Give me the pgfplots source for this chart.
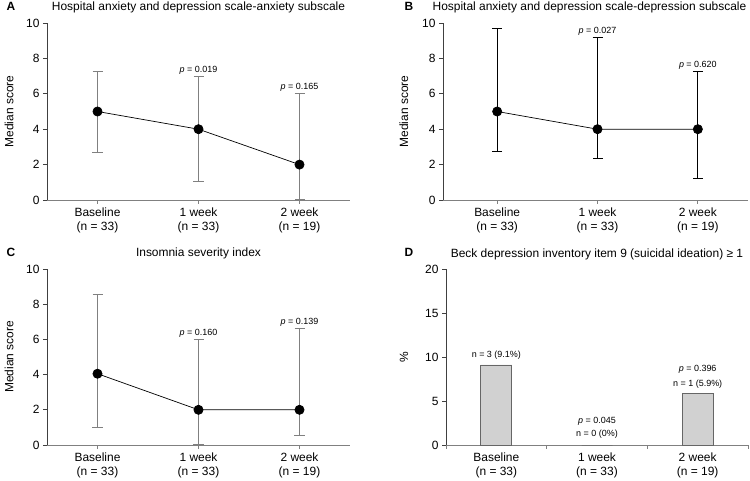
\documentclass[border=0pt]{standalone}
\usepackage{pgfplots}
\pgfplotsset{compat=1.18}
\usepackage{fontspec}
\setmainfont{Liberation Sans}
\tikzset{pl/.style={font=\fontsize{9}{11}\selectfont, anchor=base, yshift=4bp}}
\begin{document}
\begin{tikzpicture}
\useasboundingbox (0,0) rectangle (750bp,481bp);
\pgfplotsset{
  panel/.style={
    scale only axis,
    axis x line=bottom, axis y line=left,
    axis line style={-},
    x axis line style={black!50, line width=0.9bp},
    y axis line style={black!75, line width=0.8bp},
    tick align=outside, major tick length=4bp,
    xtick style={black!50, line width=0.8bp},
    ytick style={black!75, line width=0.8bp},
    tick label style={font=\fontsize{12}{14.5}\selectfont},
    /pgf/number format/assume math mode=true,
    xticklabel style={align=center},
    clip=false,
    every axis title/.style={at={(0.5,1)}, anchor=base, yshift=12bp, font=\fontsize{12}{14}\selectfont},
    label style={font=\fontsize{12}{14}\selectfont},
  },
  lineplot/.style={
    panel, xmin=-0.5, xmax=2.5, ymin=0, ymax=10,
    xtick={0,1,2}, ytick={0,2,...,10},
    xticklabels={Baseline\\(n = 33),1 week\\(n = 33),2 week\\(n = 19)},
    ylabel={Median score},
  },
}
% Panel A
\begin{axis}[lineplot, at={(47bp,281bp)}, anchor=south west, width=303bp, height=177bp,
  title={Hospital anxiety and depression scale-anxiety subscale},
  ylabel style={at={(axis description cs:-0.125,0.5)}, anchor=center}]
\addplot[black, line width=0.7bp, mark=*, mark size=4.6bp, mark options={fill=black},
  error bars/.cd, y dir=both, y explicit,
  error bar style={black!50, line width=1bp},
  error mark options={rotate=90, mark size=5bp, black!50, line width=1bp}]
  table[x=x, y=y, y error plus=ep, y error minus=em] {
  x y ep em
  0 5 2.28 2.31
  1 4 3.0 2.98
  2 2 4.0 2.0
};
\node[pl] at (axis cs:1,7.0) {{\itshape p} = 0.019};
\node[pl] at (axis cs:2,6.0) {{\itshape p} = 0.165};
\end{axis}
% Panel B
\begin{axis}[lineplot, at={(443bp,281bp)}, anchor=south west, width=305bp, height=177bp,
  xmin=-0.54,
  title={Hospital anxiety and depression scale-depression subscale},
  title style={xshift=-6bp},
  ylabel style={at={(axis description cs:-0.128,0.5)}, anchor=center}]
\addplot[black, line width=0.7bp, mark=*, mark size=4.6bp, mark options={fill=black},
  error bars/.cd, y dir=both, y explicit,
  error bar style={black, line width=0.9bp},
  error mark options={rotate=90, mark size=5bp, black, line width=0.9bp}]
  table[x=x, y=y, y error plus=ep, y error minus=em] {
  x y ep em
  0 5 4.7 2.23
  1 4 5.17 1.68
  2 4 3.25 2.77
};
\node[pl] at (axis cs:1,9.17) {{\itshape p} = 0.027};
\node[pl] at (axis cs:2,7.25) {{\itshape p} = 0.620};
\end{axis}
% Panel C
\begin{axis}[lineplot, at={(47bp,36bp)}, anchor=south west, width=303bp, height=176bp,
  title={Insomnia severity index},
  ylabel style={at={(axis description cs:-0.125,0.5)}, anchor=center}]
\addplot[black, line width=0.7bp, mark=*, mark size=4.6bp, mark options={fill=black},
  error bars/.cd, y dir=both, y explicit,
  error bar style={black!50, line width=1bp},
  error mark options={rotate=90, mark size=5bp, black!50, line width=1bp}]
  table[x=x, y=y, y error plus=ep, y error minus=em] {
  x y ep em
  0 4.05 4.5 3.05
  1 2 4.0 2.0
  2 2 4.6 1.47
};
\node[pl] at (axis cs:1,6.0) {{\itshape p} = 0.160};
\node[pl] at (axis cs:2,6.6) {{\itshape p} = 0.139};
\end{axis}
% Panel D
\begin{axis}[panel, at={(446bp,36bp)}, anchor=south west, width=302bp, height=176bp,
  xmin=-0.5, xmax=2.5, ymin=0, ymax=20,
  xtick={-0.5,0.5,1.5,2.5}, x tick label as interval,
  xticklabels={Baseline\\(n = 33),1 week\\(n = 33),2 week\\(n = 19)},
  ytick={0,5,...,20},
  title={Beck depression inventory item 9 (suicidal ideation) ≥ 1},
  ylabel={\%},
  ylabel style={at={(axis description cs:-0.139,0.5)}, anchor=center}]
\addplot[ybar, bar width=31bp, fill=black!18, draw=black!60, line width=0.8bp]
  coordinates {(0,9.1) (1,0) (2,5.9)};
\node[pl, yshift=3bp] at (axis cs:0,9.1) {n = 3 (9.1\%)};
\node[pl, yshift=3bp] at (axis cs:2,5.9) {n = 1 (5.9\%)};
\node[pl, yshift=17.5bp] at (axis cs:2,5.9) {{\itshape p} = 0.396};
\node[pl, yshift=5bp] at (axis cs:1,0) {n = 0 (0\%)};
\node[pl, yshift=18bp] at (axis cs:1,0) {{\itshape p} = 0.045};
\end{axis}
% Panel letters
\node[anchor=base west, font=\bfseries\fontsize{12}{14}\selectfont] at (3bp,470bp) {A};
\node[anchor=base west, font=\bfseries\fontsize{12}{14}\selectfont] at (401bp,470bp) {B};
\node[anchor=base west, font=\bfseries\fontsize{12}{14}\selectfont] at (3bp,224bp) {C};
\node[anchor=base west, font=\bfseries\fontsize{12}{14}\selectfont] at (401bp,224bp) {D};
\end{tikzpicture}
\end{document}
